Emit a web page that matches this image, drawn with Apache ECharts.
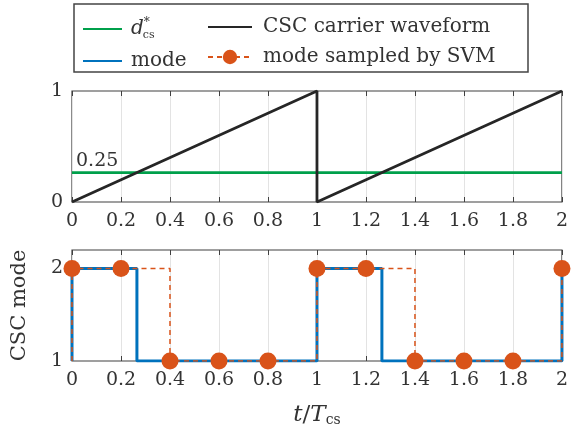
<!DOCTYPE html>
<html><head><meta charset="utf-8">
<script src="https://cdn.jsdelivr.net/npm/echarts@6/dist/echarts.min.js"></script>
<style>html,body{margin:0;padding:0;background:#fff}#c{width:571px;height:431px}</style>
</head><body><div id="c"></div>
<script>
// ---- data ----
var xTicks = [0, 0.2, 0.4, 0.6, 0.8, 1, 1.2, 1.4, 1.6, 1.8, 2];
var dStarValue = 0.265;           // reference level (labelled 0.25)
var dStarLabel = '0.25';
var carrierT = [0, 1, 1, 2];
var carrierV = [0, 1, 0, 1];
var modeT = [0, 0, 0.265, 0.265, 1, 1, 1.265, 1.265, 2, 2];
var modeV = [1, 2, 2, 1, 1, 2, 2, 1, 1, 2];
var sampleT = [0, 0.2, 0.4, 0.6, 0.8, 1, 1.2, 1.4, 1.6, 1.8, 2];
var sampleV = [2, 2, 1, 1, 1, 2, 2, 1, 1, 1, 2];

var FONT = 'DejaVu Serif';
var AX = '#404040';
function zip(a, b) { return a.map(function (v, i) { return [v, b[i]]; }); }

var sampled = [{ value: [0, 1], symbol: 'none' }].concat(zip(sampleT, sampleV));
var noMark = { color: 'rgba(0,0,0,0)', opacity: 0, borderWidth: 0 };

var chart = echarts.init(document.getElementById('c'));
var xBase = {
  type: 'value', min: 0, max: 2, interval: 0.2,
  axisLine: { show: false },
  axisTick: { show: true, inside: true, length: 5, lineStyle: { color: AX, width: 1 } },
  splitLine: { show: true, lineStyle: { color: '#e3e3e3', width: 1 } },
  axisLabel: { fontFamily: FONT, fontSize: 19, color: '#333', margin: 10,
    formatter: function (v) { return String(+v.toFixed(1)); } }
};
function topAxis(gi) {
  return { type: 'value', gridIndex: gi, position: 'top', min: 0, max: 2, interval: 0.2,
    axisLine: { show: false }, axisLabel: { show: false }, splitLine: { show: false },
    axisTick: { show: true, inside: true, length: 5, lineStyle: { color: AX, width: 1 } } };
}
var option = {
  backgroundColor: '#fff',
  animation: false,
  grid: [
    { left: 72, right: 7, top: 91, height: 111, show: true, borderColor: AX, borderWidth: 1.2, backgroundColor: 'transparent' },
    { left: 72, right: 7, top: 250, height: 111, show: true, borderColor: AX, borderWidth: 1.2, backgroundColor: 'transparent' }
  ],
  xAxis: [
    Object.assign({}, xBase, { gridIndex: 0 }),
    topAxis(0),
    Object.assign({}, xBase, { gridIndex: 1,
      name: '{i|t}{n|/}{i|T}{s|cs}', nameLocation: 'middle', nameGap: 42,
      nameTextStyle: { rich: {
        i: { fontFamily: FONT, fontStyle: 'italic', fontSize: 23, color: '#333' },
        n: { fontFamily: FONT, fontSize: 23, color: '#333' },
        s: { fontFamily: FONT, fontSize: 14, color: '#333', verticalAlign: 'bottom', padding: [10, 0, 0, 0] }
      } } }),
    topAxis(1)
  ],
  yAxis: [
    { type: 'value', gridIndex: 0, min: 0, max: 1, interval: 1,
      axisLine: { show: false }, splitLine: { show: false },
      axisTick: { show: false },
      axisLabel: { fontFamily: FONT, fontSize: 19, color: '#333', margin: 9 } },
    { type: 'value', gridIndex: 1, min: 1, max: 2.2, interval: 1,
      axisLine: { show: false }, splitLine: { show: false },
      axisTick: { show: false },
      name: 'CSC mode', nameLocation: 'middle', nameGap: 42,
      nameTextStyle: { fontFamily: FONT, fontSize: 21, color: '#333' },
      axisLabel: { fontFamily: FONT, fontSize: 19, color: '#333', margin: 9,
        formatter: function (v) { return (v === 1 || v === 2) ? String(v) : ''; } } }
  ],
  legend: [
    { orient: 'vertical', left: 82, top: 17, padding: 0, itemWidth: 39, itemHeight: 18, itemGap: 10,
      data: [{ name: 'dstar', itemStyle: noMark }, { name: 'mode', itemStyle: noMark }],
      formatter: function (n) { return n === 'dstar' ? '{i|d}{p|*}{s|cs}' : '{t|' + n + '}'; },
      textStyle: { fontFamily: FONT, fontSize: 20, color: '#333', padding: [0, 0, 0, 4],
        rich: {
          t: { fontFamily: FONT, fontSize: 20, color: '#333', height: 24 },
          i: { fontFamily: FONT, fontSize: 20, fontStyle: 'italic', color: '#333', height: 24 },
          p: { fontFamily: FONT, fontSize: 12, color: '#333', verticalAlign: 'top', padding: [0, 0, 8, 0] },
          s: { fontFamily: FONT, fontSize: 11, color: '#333', verticalAlign: 'bottom', padding: [8, 0, 0, -7] }
        } } },
    { orient: 'vertical', left: 207, top: 17, padding: 0, itemWidth: 44, itemHeight: 18, itemGap: 10,
      data: [{ name: 'CSC carrier waveform', itemStyle: noMark }, { name: 'mode sampled by SVM' }],
      formatter: function (n) { return '{t|' + n + '}'; },
      textStyle: { fontFamily: FONT, fontSize: 20, color: '#333', padding: [0, 0, 0, 6],
        rich: { t: { fontFamily: FONT, fontSize: 20, color: '#333', height: 24 } } } }
  ],
  graphic: [
    { type: 'rect', shape: { x: 74, y: 4, width: 454, height: 68 }, z: -1,
      style: { fill: '#fff', stroke: '#444', lineWidth: 1.5 } }
  ],
  series: [
    { name: 'dstar', type: 'line', xAxisIndex: 0, yAxisIndex: 0, symbol: 'none',
      data: [[0, dStarValue], [2, dStarValue]],
      lineStyle: { color: '#00a04b', width: 2.8 }, itemStyle: { color: '#00a04b' },
      markPoint: { symbol: 'circle', symbolSize: 0, silent: true,
        data: [{ coord: [0, dStarValue], value: dStarLabel }],
        label: { show: true, position: [4, -21], formatter: dStarLabel, fontFamily: FONT, fontSize: 19, color: '#333' } } },
    { name: 'CSC carrier waveform', type: 'line', xAxisIndex: 0, yAxisIndex: 0, symbol: 'none',
      data: zip(carrierT, carrierV),
      lineStyle: { color: '#262626', width: 2.8 }, itemStyle: { color: '#262626' } },
    { name: 'mode', type: 'line', xAxisIndex: 2, yAxisIndex: 1, symbol: 'none',
      data: zip(modeT, modeV),
      lineStyle: { color: '#0072BD', width: 3 }, itemStyle: { color: '#0072BD' } },
    { name: 'mode sampled by SVM', type: 'line', xAxisIndex: 2, yAxisIndex: 1, step: 'end',
      symbol: 'circle', symbolSize: 17, data: sampled, z: 5,
      lineStyle: { color: '#D95319', width: 1.5, type: [5, 4] },
      itemStyle: { color: '#D95319', borderWidth: 0 } }
  ]
};
chart.setOption(option);
</script></body></html>
